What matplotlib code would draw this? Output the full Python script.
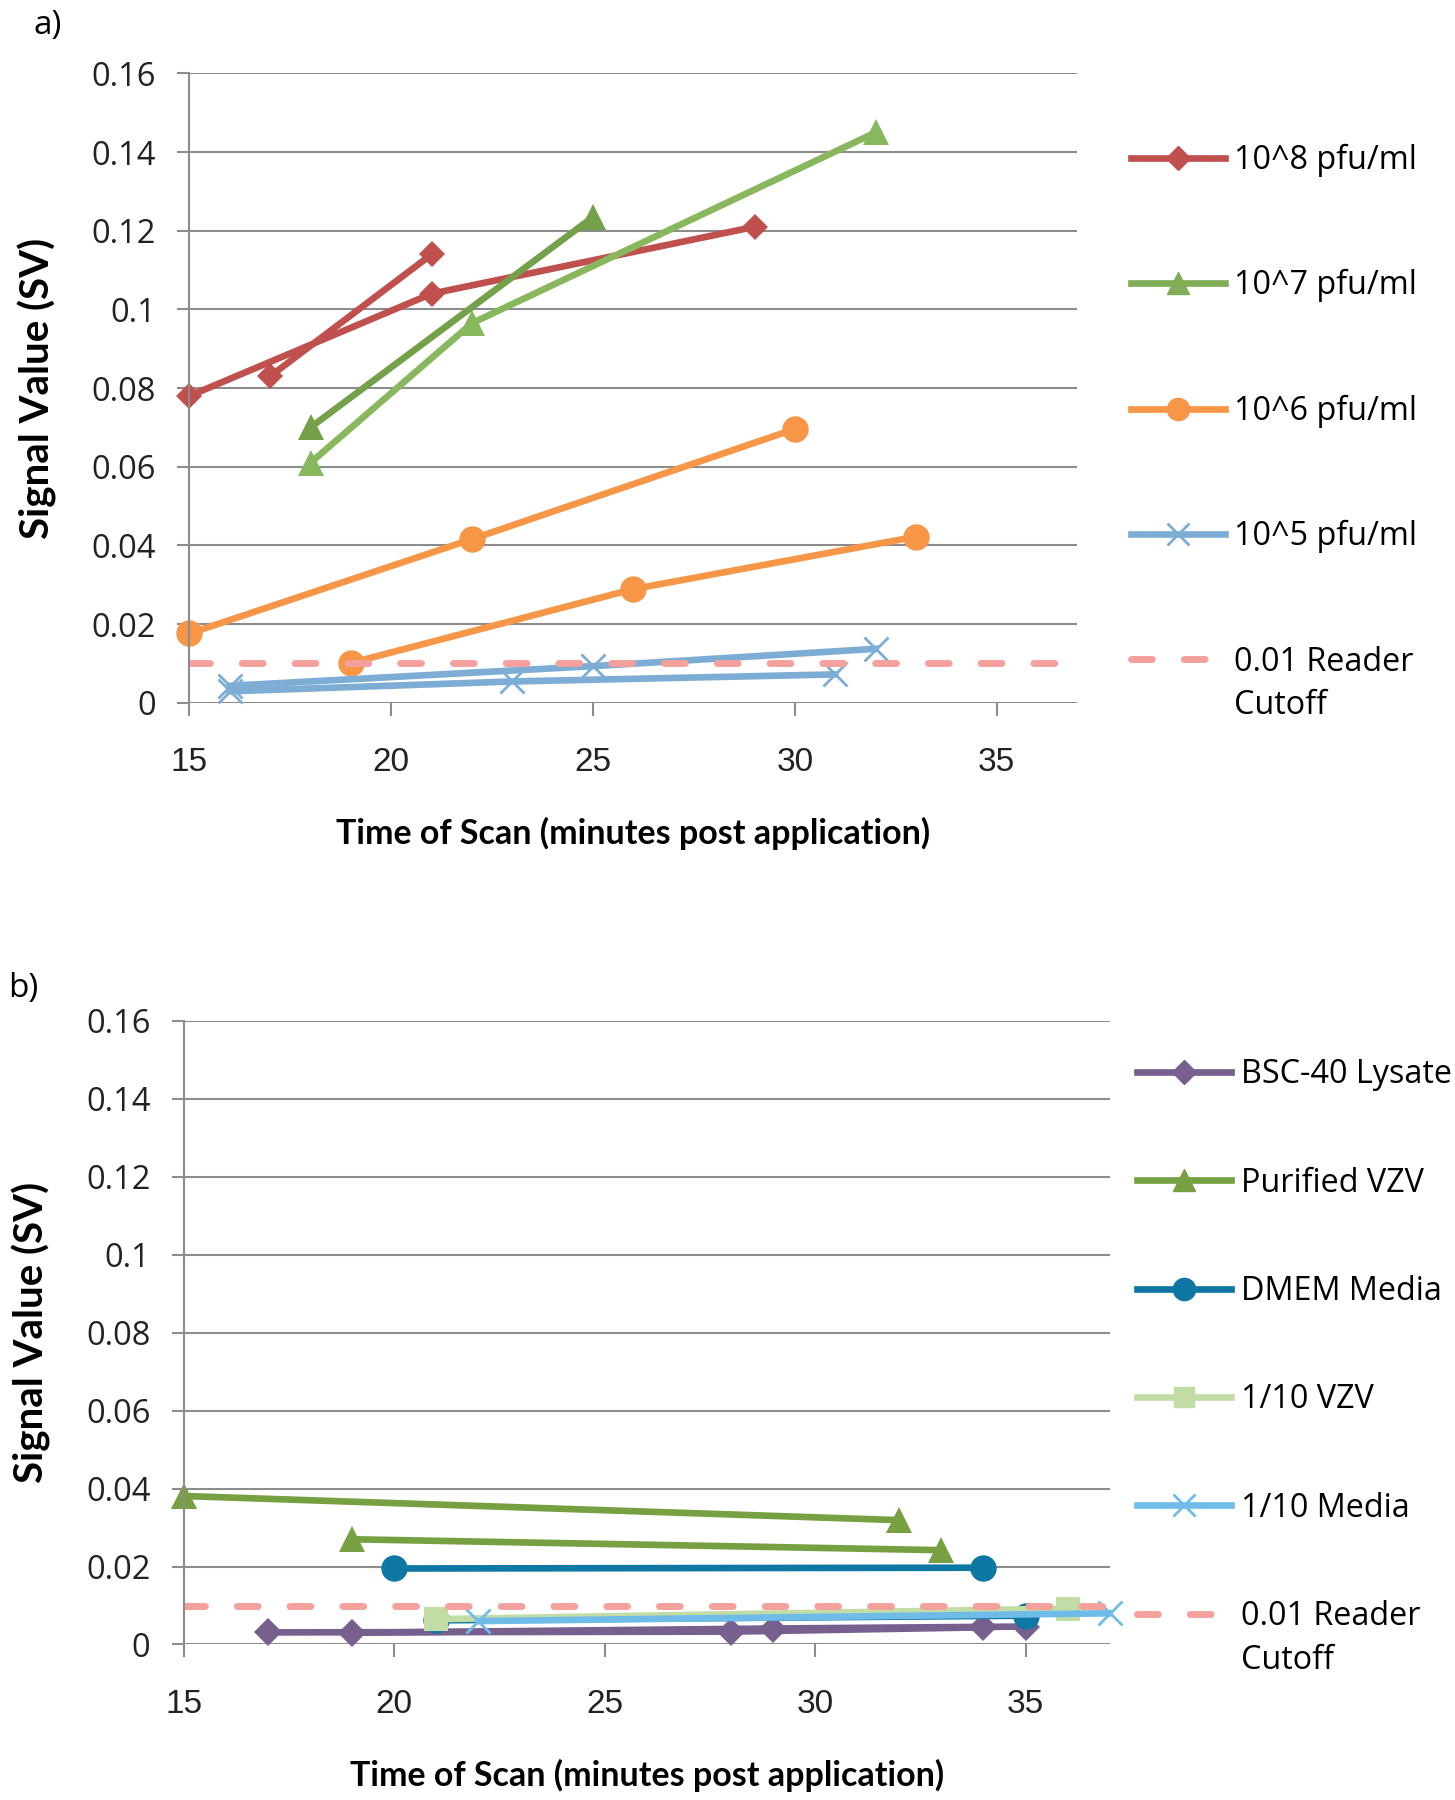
import matplotlib
matplotlib.use("Agg")
import matplotlib.pyplot as plt
from matplotlib.lines import Line2D

# ---- data: panel a (two runs per concentration) ----
conc_labels = ["10^8 pfu/ml", "10^7 pfu/ml", "10^6 pfu/ml", "10^5 pfu/ml"]
t_1e8 = [[15, 21, 29], [17, 21]]
sv_1e8 = [[0.078, 0.104, 0.121], [0.083, 0.114]]
t_1e7 = [[18, 25], [18, 22, 32]]
sv_1e7 = [[0.070, 0.1235], [0.061, 0.0965, 0.145]]
t_1e6 = [[15, 22, 30], [19, 26, 33]]
sv_1e6 = [[0.0176, 0.0416, 0.0696], [0.0101, 0.0289, 0.0422]]
t_1e5 = [[16, 25, 32], [16, 23, 31]]
sv_1e5 = [[0.0043, 0.0093, 0.0137], [0.0029, 0.0054, 0.0072]]

# ---- data: panel b ----
ctrl_labels = ["BSC-40 Lysate", "Purified VZV", "DMEM Media", "1/10 VZV", "1/10 Media"]
t_bsc = [[17, 28, 34], [19, 29, 35]]
sv_bsc = [[0.0031, 0.0033, 0.0044], [0.0030, 0.0041, 0.0046]]
t_pvzv = [[15, 32], [19, 33]]
sv_pvzv = [[0.0381, 0.0319], [0.0270, 0.0242]]
t_dmem = [[20, 34], [21, 35]]
sv_dmem = [[0.0195, 0.0197], [0.0062, 0.0074]]
t_vzv10 = [[21, 36]]
sv_vzv10 = [[0.0065, 0.0092]]
t_med10 = [[22, 37]]
sv_med10 = [[0.0060, 0.0080]]

cutoff = 0.01
x_ticks = [15, 20, 25, 30, 35]
y_ticks = [0, 0.02, 0.04, 0.06, 0.08, 0.1, 0.12, 0.14, 0.16]
y_tick_labels = ["0", "0.02", "0.04", "0.06", "0.08", "0.1", "0.12", "0.14", "0.16"]

SANS = ["Open Sans", "DejaVu Sans"]
LATO = ["Lato", "DejaVu Sans"]
ARIAL = ["Liberation Sans", "DejaVu Sans"]
GRID = "#8c8c8c"
CUT = "#f4a19d"
LEG_FS = 23.3

fig = plt.figure(figsize=(14.55, 18), dpi=100)
ax_a = fig.add_axes([0.1302, 0.6096, 0.6103, 0.3496])
ax_b = fig.add_axes([0.1263, 0.0864, 0.6364, 0.3464])


def style_axes(ax):
    ax.set_xlim(15, 37)
    ax.set_ylim(0, 0.16)
    ax.set_xticks(x_ticks)
    ax.set_yticks(y_ticks)
    ax.set_yticklabels(y_tick_labels, family=SANS, fontsize=23.5, color="#222222")
    ax.set_xticklabels([str(t) for t in x_ticks], family=ARIAL, fontsize=24, color="#222222")
    for s in ["top", "right", "bottom"]:
        ax.spines[s].set_visible(False)
    ax.spines["left"].set_color(GRID)
    ax.spines["left"].set_linewidth(1.5)
    ax.grid(axis="y", color=GRID, linewidth=1.5)
    ax.set_axisbelow(True)
    ax.tick_params(axis="y", length=9, width=1.5, color=GRID, pad=15)
    ax.tick_params(axis="x", length=9, width=1.5, color=GRID, pad=23)
    ax.set_xlabel("Time of Scan (minutes post application)", family=LATO,
                  fontsize=24.5, fontweight="bold", labelpad=28)
    ax.set_ylabel("Signal Value (SV)", family=LATO, fontsize=29,
                  fontweight="bold", labelpad=25)


def runs(ax, ts, vs, colors, marker, ms, mew=0):
    for i, (t, v) in enumerate(zip(ts, vs)):
        c = colors[i % len(colors)]
        ax.plot(t, v, color=c, lw=4.8, marker=marker, markersize=ms,
                markeredgewidth=mew, markeredgecolor=c, clip_on=False)


def add_legend(ax, handles, labels, anchor, spacing):
    leg = ax.legend(handles, labels + ["0.01 Reader"], loc="upper left",
                    bbox_to_anchor=anchor, frameon=False, borderpad=0,
                    handlelength=2.9, handletextpad=0.3, labelspacing=spacing,
                    prop={"family": SANS, "size": LEG_FS})
    return leg


# panel a
runs(ax_a, t_1e8, sv_1e8, ["#c0504d"], "D", 13)
runs(ax_a, t_1e7, sv_1e7, ["#75a04a", "#88b75e"], "^", 19)
runs(ax_a, t_1e6, sv_1e6, ["#f79646"], "o", 19)
runs(ax_a, t_1e5, sv_1e5, ["#7dadd5"], "x", 17, mew=2)
ax_a.plot([15, 37], [cutoff, cutoff], color=CUT, lw=5, dashes=(3.0, 4.6),
          dash_capstyle="round")
style_axes(ax_a)

h_a = [
    Line2D([], [], color="#c0504d", lw=4.8, marker="D", markersize=12),
    Line2D([], [], color="#80ad55", lw=4.8, marker="^", markersize=16),
    Line2D([], [], color="#f79646", lw=4.8, marker="o", markersize=16),
    Line2D([], [], color="#7dadd5", lw=4.8, marker="x", markersize=16, markeredgewidth=2),
    Line2D([], [], color=CUT, lw=5, dashes=(3.0, 4.6), dash_capstyle="round"),
]
leg_a = add_legend(ax_a, h_a, conc_labels, (1.042, 0.914), 2.85)

# panel b
runs(ax_b, t_bsc, sv_bsc, ["#775f8e"], "D", 14)
runs(ax_b, t_pvzv, sv_pvzv, ["#77a043"], "^", 19)
runs(ax_b, t_dmem, sv_dmem, ["#0e77a3"], "o", 19)
runs(ax_b, t_vzv10, sv_vzv10, ["#c2dca6"], "s", 17)
runs(ax_b, t_med10, sv_med10, ["#70bce8"], "x", 17, mew=2)
ax_b.plot([15, 37], [cutoff, cutoff], color=CUT, lw=5, dashes=(3.0, 4.6),
          dash_capstyle="round")
style_axes(ax_b)

h_b = [
    Line2D([], [], color="#775f8e", lw=4.8, marker="D", markersize=12),
    Line2D([], [], color="#77a043", lw=4.8, marker="^", markersize=16),
    Line2D([], [], color="#0e77a3", lw=4.8, marker="o", markersize=16),
    Line2D([], [], color="#c2dca6", lw=4.8, marker="s", markersize=14),
    Line2D([], [], color="#70bce8", lw=4.8, marker="x", markersize=16, markeredgewidth=2),
    Line2D([], [], color=CUT, lw=5, dashes=(3.0, 4.6), dash_capstyle="round"),
]
leg_b = add_legend(ax_b, h_b, ctrl_labels, (1.012, 0.9663), 2.33)

fig.text(0.033, 0.986, "a)", family=SANS, fontsize=24, va="center", ha="center")
fig.text(0.016, 0.451, "b)", family=SANS, fontsize=24, va="center", ha="center")

# second line of the cutoff label, placed under the first legend line
fig.canvas.draw()
W, H = fig.bbox.width, fig.bbox.height
for leg in (leg_a, leg_b):
    bb = leg.get_texts()[-1].get_window_extent()
    fig.text(bb.x0 / W, (bb.y0 + 0.22 * LEG_FS * 100 / 72 - 42.5) / H, "Cutoff",
             family=SANS, fontsize=LEG_FS, va="baseline", ha="left")

fig.savefig("out.png", dpi=100)
